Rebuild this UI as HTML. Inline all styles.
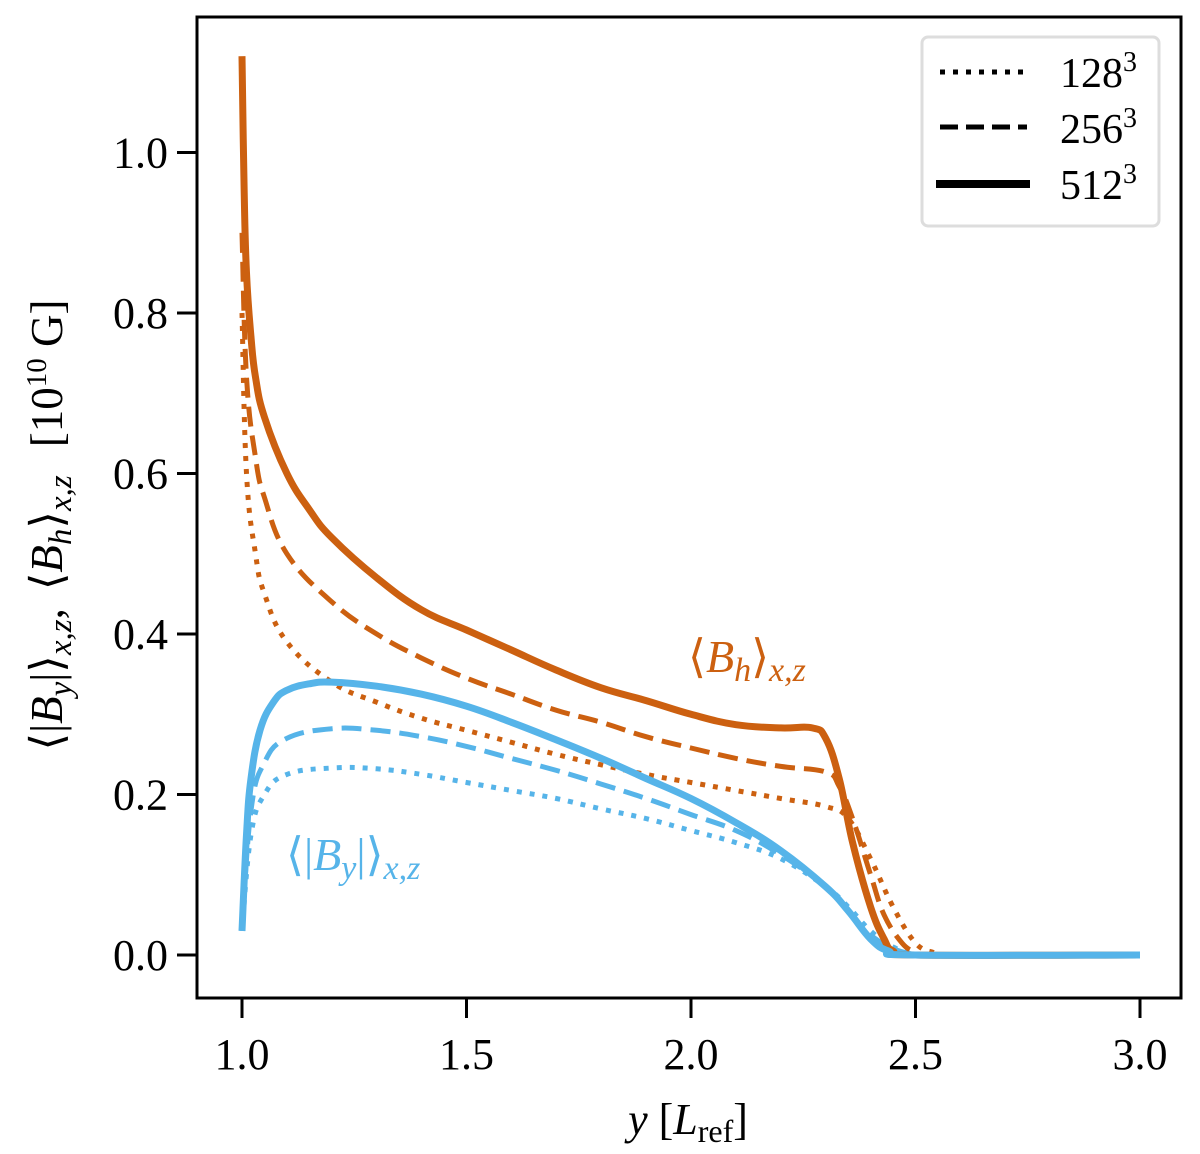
<!DOCTYPE html>
<html><head><meta charset="utf-8"><style>
body{margin:0;background:#fff}
svg{display:block;font-family:"Liberation Serif",serif}
</style></head><body>
<svg width="1200" height="1154" viewBox="0 0 1200 1154" xmlns="http://www.w3.org/2000/svg">
<g id="plot"></g>
<rect x="197" y="17" width="984" height="981" fill="none" stroke="#000" stroke-width="3"/>
<g id="ticks"></g>
<text x="688" y="1134" font-size="44" text-anchor="middle"><tspan font-style="italic">y</tspan> [<tspan font-style="italic">L</tspan><tspan font-size="32" dy="8">ref</tspan><tspan dy="-8">]</tspan></text>
<text transform="translate(62,525) rotate(-90)" font-size="45" text-anchor="middle">⟨|<tspan font-style="italic">B</tspan><tspan font-style="italic" font-size="33" dy="9">y</tspan><tspan dy="-9">|⟩</tspan><tspan font-style="italic" font-size="33" dy="9">x,z</tspan><tspan dy="-9">,</tspan><tspan dx="18">⟨</tspan><tspan font-style="italic">B</tspan><tspan font-style="italic" font-size="33" dy="9">h</tspan><tspan dy="-9">⟩</tspan><tspan font-style="italic" font-size="33" dy="9">x,z</tspan><tspan dy="-9" dx="28">[10</tspan><tspan font-size="29" dy="-16">10</tspan><tspan dy="16"> G]</tspan></text>
<text x="688" y="672" font-size="46" fill="#CC6010">⟨<tspan font-style="italic">B</tspan><tspan font-style="italic" font-size="34" dy="9">h</tspan><tspan dy="-9">⟩</tspan><tspan font-style="italic" font-size="34" dy="9">x,z</tspan></text>
<text x="286" y="870" font-size="46" fill="#56B4E9">⟨|<tspan font-style="italic">B</tspan><tspan font-style="italic" font-size="34" dy="9">y</tspan><tspan dy="-9">|⟩</tspan><tspan font-style="italic" font-size="34" dy="9">x,z</tspan></text>
<g>
<rect x="922" y="37" width="237" height="189" rx="6" fill="#fff" stroke="#ddd" stroke-width="3"/>
<line x1="940" y1="72" x2="1027" y2="72" stroke="#000" stroke-width="5" stroke-dasharray="5 8"/>
<line x1="940" y1="127" x2="1027" y2="127" stroke="#000" stroke-width="5" stroke-dasharray="18 8"/>
<line x1="936" y1="184" x2="1030" y2="184" stroke="#000" stroke-width="8"/>
<text x="1060" y="87" font-size="42">128<tspan font-size="28" dy="-16">3</tspan></text>
<text x="1060" y="143" font-size="42">256<tspan font-size="28" dy="-16">3</tspan></text>
<text x="1060" y="199" font-size="42">512<tspan font-size="28" dy="-16">3</tspan></text>
</g>
</svg>
<script>
const xTicks=[1.0,1.5,2.0,2.5,3.0];
const xTickLabels=["1.0","1.5","2.0","2.5","3.0"];
const yTicks=[0,0.2,0.4,0.6,0.8,1.0];
const yTickLabels=["0.0","0.2","0.4","0.6","0.8","1.0"];
const bh512X=[1.0,1.005,1.01,1.02,1.03,1.05,1.1,1.15,1.2,1.3,1.4,1.5,1.6,1.7,1.8,1.9,2.0,2.1,2.2,2.27,2.3,2.33,2.36,2.4,2.43,2.45,2.5,3.0];
const bh512Y=[1.12,0.95,0.85,0.77,0.72,0.67,0.60,0.555,0.52,0.47,0.43,0.405,0.38,0.355,0.333,0.317,0.30,0.287,0.283,0.283,0.27,0.22,0.14,0.06,0.02,0.005,0,0];
const bh256X=[1.0,1.01,1.03,1.05,1.1,1.2,1.3,1.4,1.5,1.6,1.7,1.8,1.9,2.0,2.1,2.2,2.3,2.33,2.36,2.4,2.43,2.47,2.5];
const bh256Y=[0.9,0.72,0.62,0.57,0.50,0.44,0.40,0.37,0.345,0.325,0.305,0.29,0.272,0.258,0.245,0.235,0.228,0.21,0.17,0.10,0.05,0.015,0.003];
const bh128X=[1.0,1.01,1.03,1.05,1.1,1.2,1.3,1.4,1.5,1.6,1.7,1.8,1.9,2.0,2.1,2.2,2.3,2.35,2.4,2.45,2.5,2.54];
const bh128Y=[0.8,0.6,0.5,0.45,0.39,0.34,0.315,0.295,0.28,0.265,0.25,0.237,0.225,0.215,0.205,0.195,0.185,0.17,0.12,0.06,0.015,0.003];
const by512X=[1.0,1.01,1.02,1.04,1.07,1.1,1.15,1.2,1.3,1.4,1.5,1.6,1.7,1.8,1.9,2.0,2.1,2.2,2.3,2.35,2.4,2.44,2.5,3.0];
const by512Y=[0.03,0.15,0.22,0.28,0.315,0.33,0.338,0.34,0.335,0.325,0.31,0.29,0.268,0.245,0.22,0.195,0.165,0.13,0.085,0.055,0.02,0.005,0,0];
const by256X=[1.0,1.02,1.05,1.1,1.2,1.3,1.4,1.5,1.6,1.7,1.8,1.9,2.0,2.1,2.2,2.3,2.35,2.4,2.45,2.5];
const by256Y=[0.03,0.18,0.24,0.27,0.282,0.28,0.272,0.26,0.245,0.23,0.213,0.195,0.175,0.155,0.125,0.085,0.055,0.025,0.008,0];
const by128X=[1.0,1.02,1.05,1.1,1.2,1.3,1.4,1.5,1.6,1.7,1.8,1.9,2.0,2.1,2.2,2.3,2.35,2.4,2.45,2.5];
const by128Y=[0.03,0.15,0.2,0.225,0.233,0.232,0.225,0.215,0.205,0.195,0.182,0.17,0.155,0.14,0.12,0.085,0.06,0.03,0.01,0];
const NS='http://www.w3.org/2000/svg';
function sx(v){return 242+(v-1)*449;}
function sy(v){return 955-v*802.5;}
const plot=document.getElementById('plot');
const ticks=document.getElementById('ticks');
function mk(tag,parent,attrs){const e=document.createElementNS(NS,tag);for(const k in attrs)e.setAttribute(k,attrs[k]);parent.appendChild(e);return e;}
function smoothPath(pts){
  let d='M'+pts[0][0].toFixed(1)+','+pts[0][1].toFixed(1);
  for(let i=0;i<pts.length-1;i++){
    const p0=pts[Math.max(0,i-1)],p1=pts[i],p2=pts[i+1],p3=pts[Math.min(pts.length-1,i+2)];
    const t=0.2;
    const c1=[p1[0]+(p2[0]-p0[0])*t,p1[1]+(p2[1]-p0[1])*t];
    const c2=[p2[0]-(p3[0]-p1[0])*t,p2[1]-(p3[1]-p1[1])*t];
    d+=' C'+c1[0].toFixed(1)+','+c1[1].toFixed(1)+' '+c2[0].toFixed(1)+','+c2[1].toFixed(1)+' '+p2[0].toFixed(1)+','+p2[1].toFixed(1);
  }
  return d;
}
function series(xs,ys,color,w,dash,name){
  const pts=xs.map((x,i)=>[sx(x),sy(ys[i])]);
  const p=mk('path',plot,{d:smoothPath(pts),fill:'none',stroke:color,'stroke-width':w,'stroke-dasharray':dash,'stroke-linejoin':'round'});
  
  
}
const OR='#CC6010',BL='#56B4E9';
series(by128X,by128Y,BL,5,'5 8','by-128-line');
series(by256X,by256Y,BL,5,'20 9','by-256-line');
series(bh128X,bh128Y,OR,5,'5 8','bh-128-line');
series(bh256X,bh256Y,OR,5,'20 9','bh-256-line');
series(bh512X,bh512Y,OR,7,'none','bh-512-line');
series(by512X,by512Y,BL,7,'none','by-512-line');
xTicks.forEach((v,i)=>{
  const l=mk('line',ticks,{x1:sx(v),x2:sx(v),y1:998,y2:1018,stroke:'#000','stroke-width':3});
  
  
  const t=mk('text',ticks,{x:sx(v),y:1069,'font-size':44,'text-anchor':'middle'});
  t.textContent=xTickLabels[i];
  
  
});
yTicks.forEach((v,i)=>{
  const l=mk('line',ticks,{x1:177,x2:197,y1:sy(v),y2:sy(v),stroke:'#000','stroke-width':3});
  
  
  const t=mk('text',ticks,{x:168,y:sy(v)+15,'font-size':44,'text-anchor':'end'});
  t.textContent=yTickLabels[i];
  
  
});
</script>
</body></html>
